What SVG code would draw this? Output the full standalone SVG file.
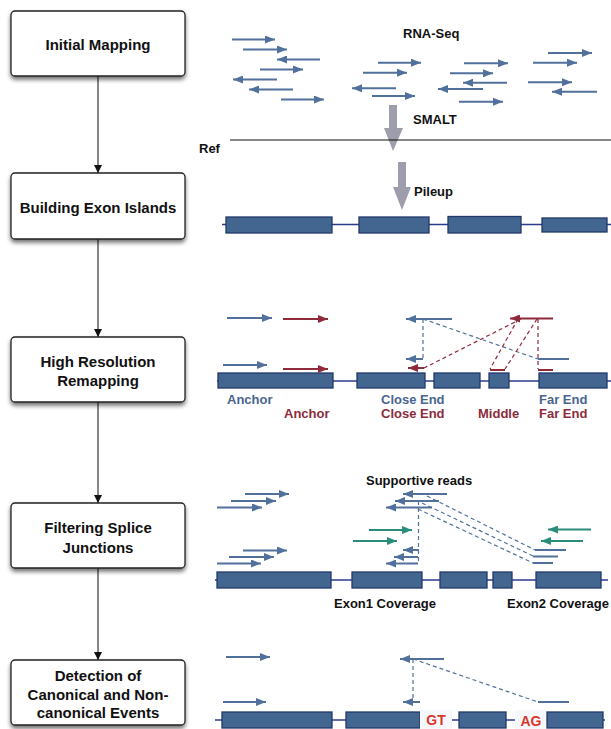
<svg xmlns="http://www.w3.org/2000/svg" width="611" height="729" viewBox="0 0 611 729">
<defs>
<style>
.box{fill:#fff;stroke:#222;stroke-width:1.3;filter:url(#sh)}
.bt{font-family:"Liberation Sans",Arial,sans-serif;font-weight:bold;font-size:15px;fill:#111;text-anchor:middle}
.lab{font-family:"Liberation Sans",Arial,sans-serif;font-weight:bold;font-size:13px;fill:#111}
.bl{fill:#4a6590}
.rd{fill:#8b2c3c}
.conn{stroke:#333;stroke-width:1.2;fill:none;marker-end:url(#ca)}
.rb{stroke:#52709c;stroke-width:2;fill:none;marker-end:url(#hb)}
.rbn{stroke:#52709c;stroke-width:2;fill:none}
.rr{stroke:#8e2a3a;stroke-width:2;fill:none;marker-end:url(#hr)}
.rrn{stroke:#8e2a3a;stroke-width:2;fill:none}
.rg{stroke:#2a8c7a;stroke-width:2;fill:none;marker-end:url(#hg)}
.db{stroke:#52709c;stroke-width:1.2;stroke-dasharray:4,3;fill:none}
.dr{stroke:#8e2a3a;stroke-width:1.2;stroke-dasharray:4,3;fill:none}
.ex{fill:#436690;stroke:#22396c;stroke-width:1.3}
.in{stroke:#2b3b8c;stroke-width:1.4}
.gray{fill:#9d9dab}
.site{font-family:"Liberation Sans",Arial,sans-serif;font-weight:bold;font-size:14px;fill:#d8372c;text-anchor:middle}
</style>
<filter id="sh" x="-10%" y="-20%" width="120%" height="150%">
<feDropShadow dx="0" dy="3" stdDeviation="2.2" flood-color="#000" flood-opacity="0.55"/>
</filter>
<marker id="ca" viewBox="0 0 10 10" refX="10" refY="5" markerWidth="8" markerHeight="9" markerUnits="userSpaceOnUse" orient="auto"><path d="M0,0 L10,5 L0,10 z" fill="#111"/></marker>
<marker id="hb" viewBox="0 0 10 8" refX="10" refY="4" markerWidth="10" markerHeight="8" markerUnits="userSpaceOnUse" orient="auto"><path d="M0,0 L10,4 L0,8 z" fill="#52709c"/></marker>
<marker id="hr" viewBox="0 0 10 8" refX="10" refY="4" markerWidth="10" markerHeight="8" markerUnits="userSpaceOnUse" orient="auto"><path d="M0,0 L10,4 L0,8 z" fill="#8e2a3a"/></marker>
<marker id="hg" viewBox="0 0 10 8" refX="10" refY="4" markerWidth="10" markerHeight="8" markerUnits="userSpaceOnUse" orient="auto"><path d="M0,0 L10,4 L0,8 z" fill="#2a8c7a"/></marker>
</defs>
<rect width="611" height="729" fill="#fff"/>

<g id="connectors">
<line class="conn" x1="98" y1="76" x2="98" y2="173"/>
<line class="conn" x1="98" y1="239" x2="98" y2="337"/>
<line class="conn" x1="98" y1="402" x2="98" y2="503"/>
<line class="conn" x1="98" y1="568" x2="98" y2="660"/>
</g>

<g id="n1"><rect class="box" x="11" y="11" width="174" height="65" rx="4"/><text class="bt" x="98" y="50">Initial Mapping</text></g>
<g id="n2"><rect class="box" x="11" y="173" width="174" height="66" rx="4"/><text class="bt" x="98" y="213">Building Exon Islands</text></g>
<g id="n3"><rect class="box" x="11" y="337" width="174" height="65" rx="4"/><text class="bt" x="98" y="367">High Resolution</text><text class="bt" x="98" y="386">Remapping</text></g>
<g id="n4"><rect class="box" x="11" y="503" width="174" height="65" rx="4"/><text class="bt" x="98" y="533">Filtering Splice</text><text class="bt" x="98" y="553">Junctions</text></g>
<g id="n5"><rect class="box" x="11" y="660" width="174" height="65" rx="4"/><text class="bt" x="98" y="681">Detection of</text><text class="bt" x="98" y="700">Canonical and Non-</text><text class="bt" x="98" y="718">canonical Events</text></g>

<g id="stage1">
<text class="lab" x="403" y="38">RNA-Seq</text>
<line class="rb" x1="232" y1="39.5" x2="275" y2="39.5"/>
<line class="rb" x1="243" y1="49.5" x2="287" y2="49.5"/>
<line class="rb" x1="320" y1="59.5" x2="277" y2="59.5"/>
<line class="rb" x1="260" y1="69.5" x2="303" y2="69.5"/>
<line class="rb" x1="277" y1="79.5" x2="233" y2="79.5"/>
<line class="rb" x1="293" y1="89.5" x2="249" y2="89.5"/>
<line class="rb" x1="281" y1="99.5" x2="324" y2="99.5"/>
<line class="rb" x1="378" y1="62.7" x2="421" y2="62.7"/>
<line class="rb" x1="363" y1="72.7" x2="407" y2="72.7"/>
<line class="rb" x1="396" y1="88.3" x2="352" y2="88.3"/>
<line class="rb" x1="372" y1="96" x2="415" y2="96"/>
<line class="rb" x1="464" y1="63.3" x2="508" y2="63.3"/>
<line class="rb" x1="450" y1="73.3" x2="493" y2="73.3"/>
<line class="rb" x1="507" y1="82.7" x2="463" y2="82.7"/>
<line class="rb" x1="483" y1="89" x2="438" y2="89"/>
<line class="rb" x1="459" y1="101.7" x2="503" y2="101.7"/>
<line class="rb" x1="548" y1="53" x2="592" y2="53"/>
<line class="rb" x1="533" y1="62.7" x2="577" y2="62.7"/>
<line class="rb" x1="528" y1="82.3" x2="572" y2="82.3"/>
<line class="rb" x1="597" y1="91.7" x2="552" y2="91.7"/>
<path class="gray" d="M389,105 H397 V128 H403 L393,151 L384,128 H389 Z"/>
<text class="lab" x="413" y="124">SMALT</text>
<line x1="230" y1="140" x2="611" y2="140" stroke="#111" stroke-width="1.2"/>
<text class="lab" x="199" y="153">Ref</text>
</g>

<g id="stage2">
<path class="gray" d="M398,162 H406 V187 H411 L402,210 L393,187 H398 Z"/>
<text class="lab" x="414" y="196">Pileup</text>
<line class="in" x1="222" y1="224.5" x2="611" y2="224.5"/>
<rect class="ex" x="226" y="217" width="106" height="16"/>
<rect class="ex" x="359" y="217" width="70" height="16"/>
<rect class="ex" x="448" y="216.5" width="73" height="16.5"/>
<rect class="ex" x="542" y="218" width="65" height="14"/>
</g>

<g id="stage3">
<line class="in" x1="217" y1="381" x2="611" y2="381"/>
<rect class="ex" x="218" y="373" width="115" height="15"/>
<rect class="ex" x="357" y="373" width="68" height="15"/>
<rect class="ex" x="434" y="373" width="46" height="15"/>
<rect class="ex" x="489" y="373" width="20" height="15"/>
<rect class="ex" x="539" y="373" width="68" height="15"/>
<line class="rb" x1="227" y1="318" x2="272" y2="318"/>
<line class="rb" x1="223" y1="365" x2="267" y2="365"/>
<line class="rr" x1="283" y1="319" x2="328" y2="319"/>
<line class="rr" x1="283" y1="369" x2="328" y2="369"/>
<line class="rb" x1="452" y1="319" x2="406" y2="319"/>
<line class="db" x1="423" y1="319" x2="423" y2="359"/>
<line class="rb" x1="423" y1="359" x2="406" y2="359"/>
<line class="db" x1="423" y1="319" x2="538" y2="359"/>
<line class="rbn" x1="538" y1="359" x2="569" y2="359"/>
<line class="rr" x1="553" y1="318.5" x2="510" y2="318.5"/>
<line class="dr" x1="521" y1="319" x2="424" y2="368"/>
<line class="rr" x1="424" y1="368" x2="408" y2="368"/>
<line class="dr" x1="518" y1="319" x2="490" y2="369"/>
<line class="dr" x1="537" y1="319" x2="505" y2="369"/>
<line class="rrn" x1="490" y1="370" x2="505" y2="370"/>
<line class="dr" x1="538" y1="319" x2="538" y2="369"/>
<line class="rrn" x1="538" y1="370" x2="553" y2="370"/>
<text class="lab bl" x="227" y="404">Anchor</text>
<text class="lab rd" x="284" y="418">Anchor</text>
<text class="lab bl" x="381" y="404">Close End</text>
<text class="lab rd" x="381" y="418">Close End</text>
<text class="lab rd" x="478" y="418">Middle</text>
<text class="lab bl" x="539" y="404">Far End</text>
<text class="lab rd" x="539" y="418">Far End</text>
</g>

<g id="stage4">
<text class="lab" x="366" y="485">Supportive reads</text>
<line class="in" x1="215" y1="580" x2="608" y2="580"/>
<rect class="ex" x="217" y="572" width="114" height="16"/>
<rect class="ex" x="352" y="572" width="70" height="16"/>
<rect class="ex" x="440" y="572" width="47" height="16"/>
<rect class="ex" x="493" y="572" width="19" height="16"/>
<rect class="ex" x="536" y="572" width="65" height="16"/>
<line class="rb" x1="245" y1="494" x2="289" y2="494"/>
<line class="rb" x1="231" y1="501" x2="276" y2="501"/>
<line class="rb" x1="217" y1="507.5" x2="262" y2="507.5"/>
<line class="rb" x1="243" y1="550.5" x2="287" y2="550.5"/>
<line class="rb" x1="229" y1="557" x2="274" y2="557"/>
<line class="rb" x1="217" y1="563.5" x2="261" y2="563.5"/>
<line class="rb" x1="447" y1="494" x2="403" y2="494"/>
<line class="rb" x1="439" y1="501" x2="395" y2="501"/>
<line class="rb" x1="432" y1="507.5" x2="386" y2="507.5"/>
<line class="db" x1="418.5" y1="501" x2="418.5" y2="563"/>
<line class="rb" x1="419" y1="550" x2="403" y2="550"/>
<line class="rb" x1="418" y1="557" x2="394" y2="557"/>
<line class="rb" x1="418" y1="563.5" x2="386" y2="563.5"/>
<line class="db" x1="427" y1="496" x2="535" y2="550"/>
<line class="db" x1="422" y1="503" x2="533" y2="556"/>
<line class="db" x1="418" y1="509" x2="533" y2="563"/>
<line class="rbn" x1="535" y1="550" x2="566" y2="550"/>
<line class="rbn" x1="533" y1="556.5" x2="558" y2="556.5"/>
<line class="rbn" x1="533" y1="563" x2="553" y2="563"/>
<line class="rg" x1="369" y1="530" x2="412" y2="530"/>
<line class="rg" x1="353" y1="541" x2="397" y2="541"/>
<line class="rg" x1="591" y1="529.5" x2="548" y2="529.5"/>
<line class="rg" x1="583" y1="541" x2="541" y2="541"/>
<text class="lab" x="334" y="608">Exon1 Coverage</text>
<text class="lab" x="507" y="608">Exon2 Coverage</text>
</g>

<g id="stage5">
<line class="in" x1="215" y1="720" x2="605" y2="720"/>
<rect class="ex" x="222" y="712" width="110" height="16"/>
<rect class="ex" x="346" y="712" width="74" height="16"/>
<rect x="420" y="710" width="32" height="19" fill="#f7f8fc"/>
<text class="site" x="436" y="725">GT</text>
<rect class="ex" x="459" y="712" width="47" height="16"/>
<rect x="515" y="710" width="32" height="19" fill="#f7f8fc"/>
<text class="site" x="531" y="726">AG</text>
<rect class="ex" x="547" y="712" width="56" height="16"/>
<line class="rb" x1="226" y1="657" x2="270" y2="657"/>
<line class="rb" x1="223" y1="702" x2="266" y2="702"/>
<line class="rb" x1="444" y1="659" x2="400" y2="659"/>
<line class="db" x1="413" y1="659" x2="413" y2="702"/>
<line class="rb" x1="420" y1="702" x2="403" y2="702"/>
<line class="db" x1="413" y1="659" x2="538" y2="702"/>
<line class="rbn" x1="538" y1="702" x2="569" y2="702"/>
</g>
</svg>
